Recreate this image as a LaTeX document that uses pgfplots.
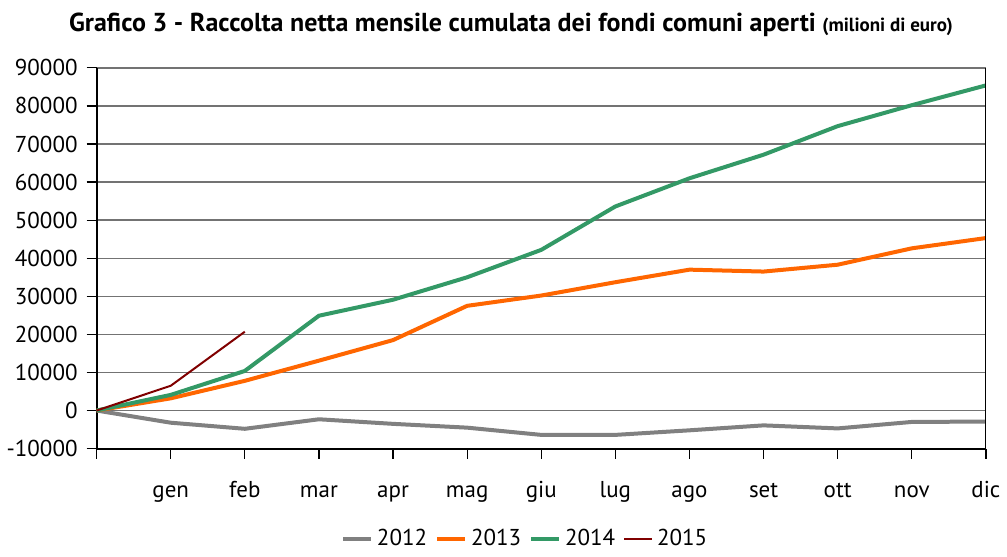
\documentclass[border=0pt]{standalone}
\usepackage{fontspec}
\setmainfont{PT Sans}
\usepackage{pgfplots}
\pgfplotsset{compat=1.18}

\definecolor{c2012}{HTML}{808080}
\definecolor{c2013}{HTML}{FF6600}
\definecolor{c2014}{HTML}{339966}
\definecolor{c2015}{HTML}{800000}

\begin{document}
\begin{tikzpicture}
\begin{axis}[
    scale only axis,
    width=445pt,
    height=190.5pt,
    xmin=0, xmax=12,
    ymin=-10000, ymax=90000,
    xtick={0,...,12},
    xticklabels={,gen,feb,mar,apr,mag,giu,lug,ago,set,ott,nov,dic},
    ytick={-10000,0,...,90000},
    scaled y ticks=false,
    axis x line*=bottom,
    axis y line*=left,
    axis line style={black, line width=1pt, -},
    tick style={black, line width=0.6pt},
    tick align=outside,
    major tick length=5pt,
    ymajorgrids=true,
    grid style={gray!90!black, line width=0.7pt},
    /pgf/number format/.cd, fixed, 1000 sep={}, assume math mode=true,
    /pgfplots/.cd,
    yticklabel style={font=\fontsize{11.5}{13}\selectfont, xshift=-1pt},
    xticklabel style={font=\fontsize{11.5}{13}\selectfont, yshift=-8pt, text height=1.6ex, text depth=0.4ex},
    title={\rule{0pt}{12.5pt}\bfseries Grafico 3 - Raccolta netta mensile cumulata dei fondi comuni aperti {\fontsize{9.5}{11}\selectfont (milioni di euro)}},
    title style={at={(0.466,1)}, anchor=south, yshift=6pt, font=\fontsize{13}{15}\selectfont},
    legend columns=4,
    legend style={at={(0.483,-0.19)}, anchor=north, draw=none, font=\fontsize{11.5}{13}\selectfont,
        /tikz/every even column/.append style={column sep=2pt}},
    legend image code/.code={\draw[#1] (0pt,0pt) -- (14pt,0pt);},
]
\addplot[c2012, line width=2pt] coordinates {
    (0,0) (1,-3200) (2,-4800) (3,-2300) (4,-3500) (5,-4500) (6,-6400)
    (7,-6400) (8,-5200) (9,-3900) (10,-4700) (11,-3000) (12,-2900)
};
\addplot[c2013, line width=2pt] coordinates {
    (0,0) (1,3200) (2,7800) (3,13100) (4,18500) (5,27500) (6,30200)
    (7,33700) (8,37000) (9,36500) (10,38300) (11,42600) (12,45300)
};
\addplot[c2014, line width=2pt] coordinates {
    (0,0) (1,4100) (2,10400) (3,24900) (4,29100) (5,35000) (6,42200)
    (7,53600) (8,61000) (9,67200) (10,74700) (11,80200) (12,85400)
};
\addplot[c2015, line width=1pt] coordinates {
    (0,0) (1,6500) (2,20700)
};
\legend{2012,2013,2014,2015}
\draw[black, line width=0.7pt] (rel axis cs:1,0) -- (rel axis cs:1,1);
\end{axis}
\end{tikzpicture}
\end{document}
